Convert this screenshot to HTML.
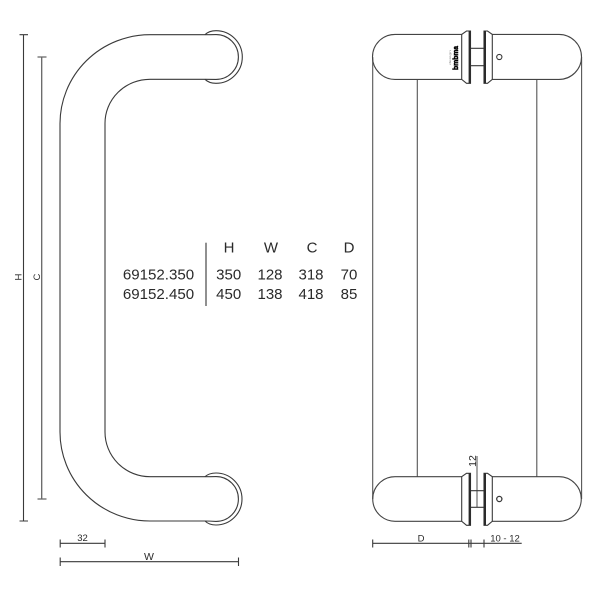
<!DOCTYPE html>
<html lang="en">
<head>
<meta charset="utf-8">
<title>69152 door handle</title>
<style>
html,body{margin:0;padding:0;background:#fff;width:600px;height:600px;overflow:hidden}
svg{display:block}
text{font-family:"Liberation Sans",sans-serif;fill:#2a2a2a}
</style>
</head>
<body>
<svg width="600" height="600" viewBox="0 0 600 600" xmlns="http://www.w3.org/2000/svg">
<g fill="none" stroke="#3a3a3a" stroke-width="1.1">
  <!-- Left handle -->
  <path d="M205 34.7H150A90 89 0 0 0 60 123.5V432A90 89 0 0 0 150 521H205"/>
  <path d="M205 79.3H150A45 44 0 0 0 105 123.5V432A45 44.7 0 0 0 150 476.7H205"/>
  <path d="M205 34.7Q210 34.7 216 34.6A22.4 22.4 0 0 1 216 79.4Q210 79.3 205 79.3"/>
  <path d="M205 34.7Q209 30.7 216 30.7A26.3 26.3 0 0 1 216 83.3Q209 83.3 205 79.3"/>
  <path d="M205 476.7Q210 476.7 216 476.6A22.4 22.4 0 0 1 216 521.4Q210 521 205 521"/>
  <path d="M205 476.7Q209 473 216 473A26 26 0 0 1 216 525Q209 525 205 521"/>

  <!-- Left dimensions -->
  <path d="M23.5 34.7V521M19.5 34.7H28M19.5 521H28"/>
  <path stroke="#666" stroke-width="1.3" d="M41.7 57V499M37.5 57H46.5M37.5 499H46.5"/>
  <path d="M60 543.3H105M60.2 539.5V547.5M105 539.5V547.5"/>
  <path d="M60 561.7H238.5M60.2 557.5V566M238.5 557.5V566"/>

  <!-- Table rule -->
  <path stroke="#555" stroke-width="1.3" d="M206 242.7V306"/>

  <!-- Right view long bars -->
  <path stroke="#555" d="M372.7 57V499M417.3 79.3V476.7M536.8 79.3V476.7M581.6 57V499"/>

  <!-- Top right assembly -->
  <path stroke="#444" d="M461.7 34.4H395A22.5 22.5 0 0 0 395 79.4H461.7"/>
  <path stroke="#444" d="M492.3 34.4H559A22.5 22.5 0 0 1 559 79.4H492.3"/>
  <path d="M461.7 79.4V34.4L466.5 31H470.5V83.3H466.5L461.7 79.4Z"/>
  <path d="M492.3 79.4V34.4L487.5 31H484V83.3H487.5L492.3 79.4Z"/>
  <path d="M470.5 48.3H484M470.5 65.7H484"/>
  <circle cx="499.3" cy="57" r="2.6" stroke-width="1.1"/>

  <!-- Bottom right assembly -->
  <path stroke="#444" d="M461.7 476.7H395A22.3 22.3 0 0 0 395 521.3H461.7"/>
  <path stroke="#444" d="M492.3 476.7H559A22.3 22.3 0 0 1 559 521.3H492.3"/>
  <path d="M461.7 521.3V476.7L466.5 473.3H470.5V525.3H466.5L461.7 521.3Z"/>
  <path d="M492.3 521.3V476.7L487.5 473.3H484V525.3H487.5L492.3 521.3Z"/>
  <path d="M470.5 490.7H484M470.5 507.3H484"/>
  <circle cx="499.3" cy="499" r="2.6" stroke-width="1.3"/>

  <!-- 12 dimension -->
  <path stroke-width="0.9" d="M477 456V507.3"/>

  <!-- Bottom dimensions -->
  <path d="M372.7 543.3H521.7M372.7 539.5V547.5M468.8 539.5V547.5M471 539.5V547.5M484 539.5V547.5"/>
</g>

<!-- Dark flange bars -->
<g fill="#2b2b2b">
  <rect x="468.6" y="31" width="2.2" height="52.3"/>
  <rect x="483.8" y="31" width="2.2" height="52.3"/>
  <rect x="468.6" y="473.3" width="2.2" height="52"/>
  <rect x="483.8" y="473.3" width="2.2" height="52"/>
</g>

<!-- Logo mark -->
<text transform="translate(458 70) rotate(-90)" font-size="7" font-weight="700" textLength="24" lengthAdjust="spacingAndGlyphs" style="fill:#000;stroke:#000;stroke-width:.5">bmbma</text>
<text transform="translate(451 65) rotate(-90)" font-size="3" textLength="15" lengthAdjust="spacingAndGlyphs" style="fill:#888">design</text>

<!-- Table -->
<g font-size="15" text-anchor="middle">
  <text x="229" y="252.7">H</text>
  <text x="271" y="252.7">W</text>
  <text x="312" y="252.7">C</text>
  <text x="349" y="252.7">D</text>
  <text x="158.5" y="279.3" font-size="15.1">69152.350</text>
  <text x="228.7" y="279.3">350</text>
  <text x="270" y="279.3">128</text>
  <text x="311" y="279.3">318</text>
  <text x="349" y="279.3">70</text>
  <text x="158.5" y="299" font-size="15.1">69152.450</text>
  <text x="228.7" y="299">450</text>
  <text x="270" y="299">138</text>
  <text x="311" y="299">418</text>
  <text x="349" y="299">85</text>
</g>

<!-- Dimension labels -->
<g font-size="9.5" text-anchor="middle">
  <text transform="translate(21.5 277) rotate(-90)">H</text>
  <text transform="translate(39.8 277) rotate(-90)">C</text>
  <text x="82.5" y="541">32</text>
  <text x="149" y="560" font-size="10.5">W</text>
  <text x="421" y="541.5">D</text>
  <text x="505" y="541.5">10 - 12</text>
  <text transform="translate(476 461) rotate(-90)" font-size="10.5">12</text>
</g>
</svg>
</body>
</html>
